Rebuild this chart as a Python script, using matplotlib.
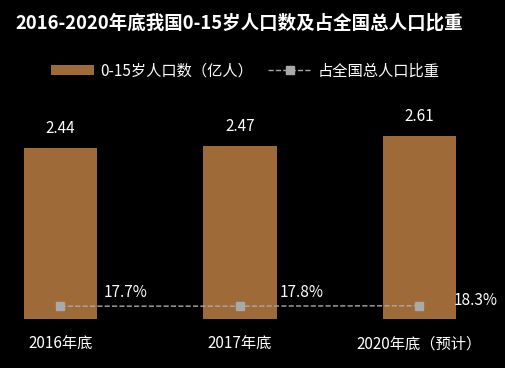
import matplotlib
matplotlib.use("Agg")
import matplotlib.pyplot as plt
from matplotlib.patches import Patch
from matplotlib.lines import Line2D

plt.rcParams['font.family'] = ['Noto Sans CJK SC', 'DejaVu Sans']

# data
categories = ['2016年底', '2017年底', '2020年底（预计）']
population = [2.44, 2.47, 2.61]          # 0-15岁人口数（亿人）
share = [17.7, 17.8, 18.3]               # 占全国总人口比重 (%)
title = '2016-2020年底我国0-15岁人口数及占全国总人口比重'
bar_label = '0-15岁人口数（亿人）'
line_label = '占全国总人口比重'

bar_color = '#9d6a38'
line_color = '#a9a9a9'

fig = plt.figure(figsize=(5.06, 3.68), dpi=100, facecolor='black')
ax = fig.add_axes([0, 49 / 368, 1, 319 / 368])
ax.set_facecolor('black')

x = list(range(len(categories)))
ax.bar(x, population, width=0.41, color=bar_color, zorder=2)
ax.set_xlim(-0.337, 2.482)
ax.set_ylim(0, 4.557)

for xi, v in zip(x, population):
    ax.text(xi, v + 0.28, f'{v:.2f}', ha='center', va='center',
            color='white', fontsize=11)

for s in ax.spines.values():
    s.set_visible(False)
ax.axhline(0, color='#262626', linewidth=0.8, zorder=1)
ax.set_yticks([])
ax.set_xticks(x)
ax.set_xticklabels(categories, color='white', fontsize=11)
ax.tick_params(axis='x', length=0, pad=12)

# share line on a secondary axis, kept near the bottom
ax2 = ax.twinx()
ax2.set_ylim(0, 441)
ax2.plot(x, share, color=line_color, linestyle='--', linewidth=1,
         marker='s', markersize=6, zorder=3)
ax2.set_yticks([])
for s in ax2.spines.values():
    s.set_visible(False)

px = 441 / 319  # secondary-axis units per pixel
label_offsets = [(0.24, 14), (0.22, 14), (0.19, 5)]
for xi, v, (dx, dy) in zip(x, share, label_offsets):
    ax2.text(xi + dx, v + dy * px, f'{v}%', ha='left', va='center',
             color='white', fontsize=11)

fig.text(15 / 506, 1 - 23 / 368, title, ha='left', va='center',
         color='white', fontsize=13.3, fontweight='bold')

handles = [
    Patch(facecolor=bar_color, edgecolor='none'),
    Line2D([0], [0], color=line_color, linestyle='--', linewidth=1,
           marker='s', markersize=6),
]
fig.legend(handles, [bar_label, line_label], loc='center',
           bbox_to_anchor=(0.485, 1 - 71 / 368), ncol=2, frameon=False,
           labelcolor='white', fontsize=11, handlelength=2.8,
           handleheight=0.55, columnspacing=1.0, handletextpad=0.4)

fig.savefig('out.png', dpi=100, facecolor='black')
